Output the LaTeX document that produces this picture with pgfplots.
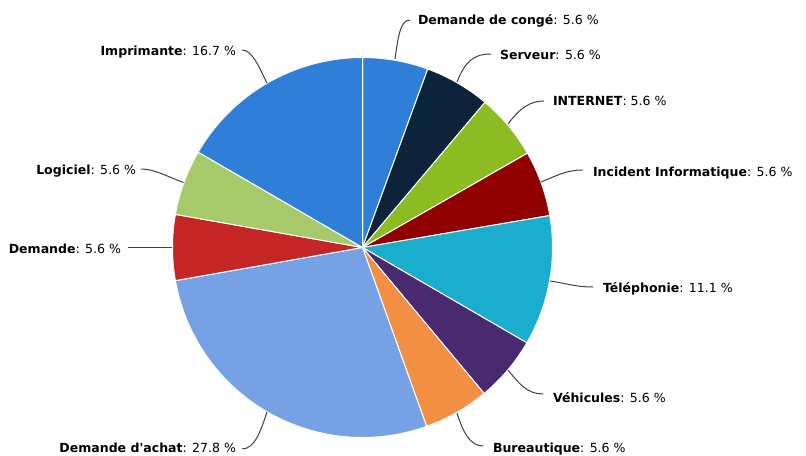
\documentclass[border=0pt]{standalone}
\usepackage{fontspec}
\setmainfont{DejaVu Sans}[Ligatures=TeXOff]
\usepackage{pgfplots}
\pgfplotsset{compat=1.18}
\definecolor{c1}{HTML}{2F7ED8}
\definecolor{c2}{HTML}{0D233A}
\definecolor{c3}{HTML}{8BBC21}
\definecolor{c4}{HTML}{910000}
\definecolor{c5}{HTML}{1AADCE}
\definecolor{c6}{HTML}{492970}
\definecolor{c7}{HTML}{F28F43}
\definecolor{c8}{HTML}{77A1E5}
\definecolor{c9}{HTML}{C42525}
\definecolor{c10}{HTML}{A6C96A}
\definecolor{conn}{HTML}{404040}
\tikzset{lbl/.style={inner sep=0pt, outer sep=0pt, font=\fontsize{9.4pt}{11pt}\selectfont}}
% slice: {cumulative start}{value}{colour}; total of values = 100.4
\newcommand\slice[3]{%
  \addplot[fill=#3, draw=white, line width=0.75pt, line join=round,
    domain=#1:#1+#2, samples=60, variable=\t]
    ({362.5+190*sin(\t*360/100.4)},{247.5-190*cos(\t*360/100.4)})
    -- (axis cs:362.5,247.5) -- cycle;}
\newcommand\lab[2]{{\bfseries #1}: #2}
\begin{document}
\begin{tikzpicture}
\begin{axis}[
  name=ax,
  width=604.5pt, height=342pt, scale only axis,
  xmin=0, xmax=806, ymin=0, ymax=456, y dir=reverse,
  hide axis, clip=false,
]
% values: Demande de conge 5.6, Serveur 5.6, INTERNET 5.6, Incident 5.6,
% Telephonie 11.1, Vehicules 5.6, Bureautique 5.6, Demande d'achat 27.8,
% Demande 5.6, Logiciel 5.6, Imprimante 16.7
\slice{0}{5.6}{c1}
\slice{5.6}{5.6}{c2}
\slice{11.2}{5.6}{c3}
\slice{16.8}{5.6}{c4}
\slice{22.4}{11.1}{c5}
\slice{33.5}{5.6}{c6}
\slice{39.1}{5.6}{c7}
\slice{44.7}{27.8}{c8}
\slice{72.5}{5.6}{c9}
\slice{78.1}{5.6}{c10}
\slice{83.7}{16.7}{c1}
% connectors
\draw[conn, line width=0.75pt] (axis cs:395,59) .. controls (axis cs:398,38) and (axis cs:400,20) .. (axis cs:410,20);
\draw[conn, line width=0.75pt] (axis cs:457,82) .. controls (axis cs:465,62) and (axis cs:473,54) .. (axis cs:491,54);
\draw[conn, line width=0.75pt] (axis cs:508,124) .. controls (axis cs:520,108) and (axis cs:530,101) .. (axis cs:544,101);
\draw[conn, line width=0.75pt] (axis cs:541,182) .. controls (axis cs:556,176) and (axis cs:566,170) .. (axis cs:583,170);
\draw[conn, line width=0.75pt] (axis cs:550,281) .. controls (axis cs:565,283) and (axis cs:575,287) .. (axis cs:593,287);
\draw[conn, line width=0.75pt] (axis cs:508,370) .. controls (axis cs:520,385) and (axis cs:528,394) .. (axis cs:543,394);
\draw[conn, line width=0.75pt] (axis cs:457,413) .. controls (axis cs:463,432) and (axis cs:470,446) .. (axis cs:483,446);
\draw[conn, line width=0.75pt] (axis cs:267,412) .. controls (axis cs:261,430) and (axis cs:255,449) .. (axis cs:242,449);
\draw[conn, line width=0.75pt] (axis cs:172,247.5) -- (axis cs:128,247.5);
\draw[conn, line width=0.75pt] (axis cs:183.5,182.5) .. controls (axis cs:168,177) and (axis cs:155,169) .. (axis cs:141,169);
\draw[conn, line width=0.75pt] (axis cs:267,83) .. controls (axis cs:258,65) and (axis cs:252,50) .. (axis cs:242,50);
% labels
\node[lbl, anchor=base west] at (axis cs:418,25) {\lab{Demande de congé}{5.6 \%}};
\node[lbl, anchor=base west] at (axis cs:500,60) {\lab{Serveur}{5.6 \%}};
\node[lbl, anchor=base west] at (axis cs:553,106) {\lab{INTERNET}{5.6 \%}};
\node[lbl, anchor=base west] at (axis cs:593,176) {\lab{Incident Informatique}{5.6 \%}};
\node[lbl, anchor=base west] at (axis cs:603,292) {\lab{Téléphonie}{11.1 \%}};
\node[lbl, anchor=base west] at (axis cs:553,402) {\lab{Véhicules}{5.6 \%}};
\node[lbl, anchor=base west] at (axis cs:493,452) {\lab{Bureautique}{5.6 \%}};
\node[lbl, anchor=base east] at (axis cs:236,452) {\lab{Demande d'achat}{27.8 \%}};
\node[lbl, anchor=base east] at (axis cs:121,253) {\lab{Demande}{5.6 \%}};
\node[lbl, anchor=base east] at (axis cs:136,175) {\lab{Logiciel}{5.6 \%}};
\node[lbl, anchor=base east] at (axis cs:236,56) {\lab{Imprimante}{16.7 \%}};
\end{axis}
\pgfresetboundingbox
\path (ax.south west) rectangle (ax.north east);
\end{tikzpicture}
\end{document}
